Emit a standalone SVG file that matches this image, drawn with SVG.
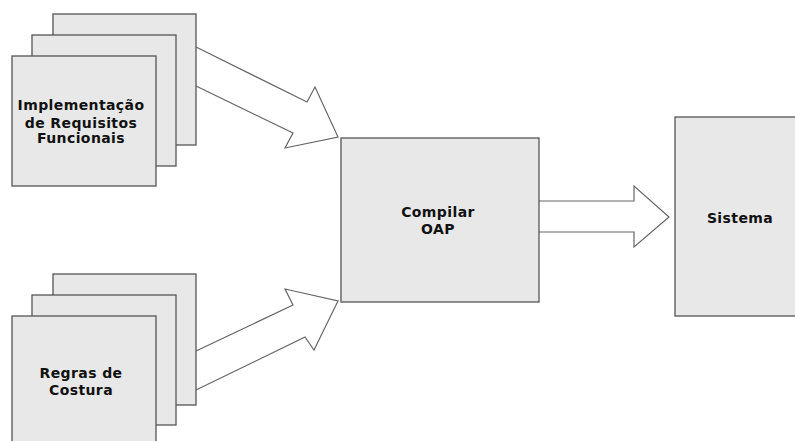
<svg xmlns="http://www.w3.org/2000/svg" width="795" height="441" viewBox="0 0 795 441">
  <style>
    .box { fill: #e8e8e8; stroke: #555555; stroke-width: 1.3; }
    .arrow { fill: #ffffff; stroke: #666666; stroke-width: 1.2; stroke-linejoin: miter; }
    .label { font-family: "DejaVu Sans", sans-serif; font-weight: bold; font-size: 14px; fill: #111111; text-anchor: middle; letter-spacing: 0.4px; }
  </style>
  <rect width="795" height="441" fill="#ffffff"/>

  <g id="connectors">
    <!-- stack (top) to compiler -->
    <path class="arrow" d="M196,47 L307,102 L315,87 L338,137 L285,148 L293,133 L196,86"/>
    <!-- stack (bottom) to compiler -->
    <path class="arrow" d="M196,351 L293,305 L285,289 L338,301 L314,350 L305,337 L196,390"/>
    <!-- compiler to system -->
    <path class="arrow" d="M539,201 L634,201 L634,186 L669,217 L634,247 L634,232 L539,232"/>
  </g>

  <g id="implementacao">
    <rect class="box" x="53" y="14" width="143" height="131"/>
    <rect class="box" x="32" y="35" width="144" height="131"/>
    <rect class="box" x="12" y="56" width="144" height="130"/>
    <text class="label" x="81" y="110">Implementação</text>
    <text class="label" x="81" y="128">de Requisitos</text>
    <text class="label" x="81" y="143">Funcionais</text>
  </g>

  <g id="regras">
    <rect class="box" x="53" y="274" width="143" height="131"/>
    <rect class="box" x="32" y="295" width="144" height="130"/>
    <rect class="box" x="12" y="316" width="144" height="130"/>
    <text class="label" x="81" y="378">Regras de</text>
    <text class="label" x="81" y="395">Costura</text>
  </g>

  <g id="compilar">
    <rect class="box" x="341" y="138" width="198" height="164"/>
    <text class="label" x="438" y="217">Compilar</text>
    <text class="label" x="438" y="234">OAP</text>
  </g>

  <g id="sistema">
    <rect class="box" x="675" y="117" width="130" height="199"/>
    <text class="label" x="740" y="223">Sistema</text>
  </g>
</svg>
